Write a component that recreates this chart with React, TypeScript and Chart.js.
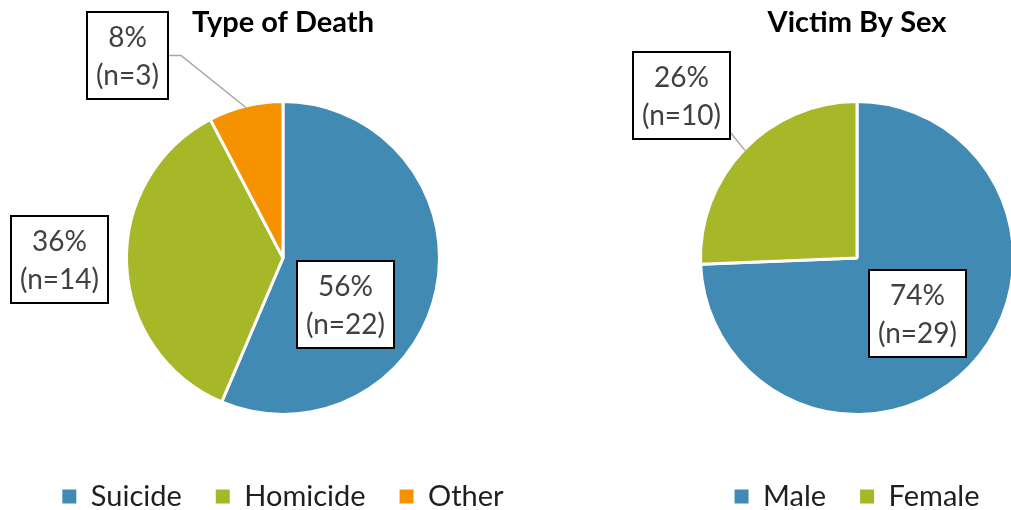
import React, { useEffect, useRef } from 'react';
import { Chart, registerables } from 'chart.js';

Chart.register(...registerables);

// ---- data ----
const TYPE_TITLE = 'Type of Death';
const TYPE_LABELS = ['Suicide', 'Homicide', 'Other'];
const TYPE_COUNTS = [22, 14, 3];

const SEX_TITLE = 'Victim By Sex';
const SEX_LABELS = ['Male', 'Female'];
const SEX_COUNTS = [29, 10];

// ---- style ----
const FONT = 'Lato';
const BLUE = '#418AB3';
const GREEN = '#A6B727';
const ORANGE = '#F69200';
const TYPE_COLORS = [BLUE, GREEN, ORANGE];
const SEX_COLORS = [BLUE, GREEN];
const LABEL_TEXT = '#404040';
const LEGEND_TEXT = '#1f1f1f';

type LabelPos = { dx: number; dy: number; leader: null | 'stub' | 'direct' };
// data-label box centres, relative to the pie centre
const TYPE_LABEL_POS: LabelPos[] = [
  { dx: 62, dy: 46.5, leader: null },
  { dx: -224, dy: 1, leader: null },
  { dx: -155.5, dy: -202.5, leader: 'stub' },
];
const SEX_LABEL_POS: LabelPos[] = [
  { dx: 60, dy: 55.5, leader: null },
  { dx: -175.5, dy: -162.5, leader: 'direct' },
];

function makeLabelPlugin(positions: LabelPos[]) {
  return {
    id: 'boxLabels',
    afterDatasetsDraw(chart: any) {
      const ctx: CanvasRenderingContext2D = chart.ctx;
      const meta = chart.getDatasetMeta(0);
      const data = chart.data.datasets[0].data as number[];
      const total = data.reduce((a, b) => a + b, 0);
      ctx.save();
      ctx.font = `28px ${FONT}`;
      meta.data.forEach((arc: any, i: number) => {
        const { x, y, startAngle, endAngle, outerRadius } = arc.getProps(
          ['x', 'y', 'startAngle', 'endAngle', 'outerRadius'],
          true
        );
        const p = positions[i];
        const cx = x + p.dx;
        const cy = y + p.dy;
        const l1 = `${Math.round((data[i] / total) * 100)}%`;
        const l2 = `(n=${data[i]})`;
        const w = Math.round(Math.max(ctx.measureText(l1).width, ctx.measureText(l2).width) + 18);
        const h = 87;
        const left = Math.round(cx - w / 2);
        const top = Math.round(cy - h / 2);
        if (p.leader) {
          const mid = (startAngle + endAngle) / 2;
          const r = outerRadius - 1.5;
          const tx = x + Math.cos(mid) * r;
          const ty = y + Math.sin(mid) * r;
          ctx.strokeStyle = '#A6A6A6';
          ctx.lineWidth = 1.5;
          ctx.beginPath();
          if (p.leader === 'stub') {
            ctx.moveTo(left + w, top + h / 2);
            ctx.lineTo(left + w + 13, top + h / 2);
          } else {
            ctx.moveTo(left + w, top + h - 7);
          }
          ctx.lineTo(tx, ty);
          ctx.stroke();
        }
        ctx.fillStyle = '#ffffff';
        ctx.fillRect(left, top, w, h);
        ctx.strokeStyle = '#000000';
        ctx.lineWidth = 2;
        ctx.strokeRect(left, top, w, h);
        ctx.fillStyle = LABEL_TEXT;
        ctx.textAlign = 'center';
        ctx.textBaseline = 'alphabetic';
        ctx.fillText(l1, left + w / 2, top + 35);
        ctx.fillText(l2, left + w / 2, top + 73);
      });
      ctx.restore();
    },
  };
}

function PieChart(props: {
  title: string;
  labels: string[];
  counts: number[];
  colors: string[];
  positions: LabelPos[];
  left: number;
}) {
  const ref = useRef<HTMLCanvasElement | null>(null);
  useEffect(() => {
    if (!ref.current) return;
    const { title, labels, counts, colors, positions } = props;
    const chart = new Chart(ref.current, {
      type: 'pie',
      data: {
        labels,
        datasets: [
          {
            data: counts,
            backgroundColor: colors,
            borderColor: '#ffffff',
            borderWidth: 3,
            hoverBorderWidth: 3,
            hoverOffset: 0,
          },
        ],
      },
      options: {
        responsive: false,
        animation: false,
        events: [],
        layout: { padding: 0 },
        plugins: {
          title: {
            display: true,
            text: title,
            color: '#000000',
            font: { family: FONT, size: 29, weight: 'bold' },
            padding: { top: 5, bottom: 60.2 },
          },
          legend: {
            position: 'bottom',
            title: { display: true, text: '', font: { size: 10 }, padding: { top: 20, bottom: 0 } },
            labels: {
              font: { family: FONT, size: 29 },
              color: LEGEND_TEXT,
              boxWidth: 14,
              boxHeight: 14,
              padding: 34,
              generateLabels: (c: any) =>
                (c.data.labels as string[]).map((t, i) => ({
                  text: t,
                  fillStyle: colors[i],
                  strokeStyle: colors[i],
                  lineWidth: 0,
                  fontColor: LEGEND_TEXT,
                  hidden: false,
                  index: i,
                })),
            },
          },
          tooltip: { enabled: false },
        },
      } as any,
      plugins: [makeLabelPlugin(positions)],
    });
    return () => chart.destroy();
  }, []);
  return (
    <canvas
      ref={ref}
      width={566}
      height={521}
      style={{ position: 'absolute', left: props.left, top: 0, width: 566, height: 521 }}
    />
  );
}

export default function App() {
  return (
    <div
      style={{
        position: 'fixed',
        left: 0,
        top: 0,
        width: 1011,
        height: 510,
        overflow: 'hidden',
        background: '#ffffff',
      }}
    >
      <PieChart
        title={TYPE_TITLE}
        labels={TYPE_LABELS}
        counts={TYPE_COUNTS}
        colors={TYPE_COLORS}
        positions={TYPE_LABEL_POS}
        left={0}
      />
      <PieChart
        title={SEX_TITLE}
        labels={SEX_LABELS}
        counts={SEX_COUNTS}
        colors={SEX_COLORS}
        positions={SEX_LABEL_POS}
        left={574}
      />
    </div>
  );
}
